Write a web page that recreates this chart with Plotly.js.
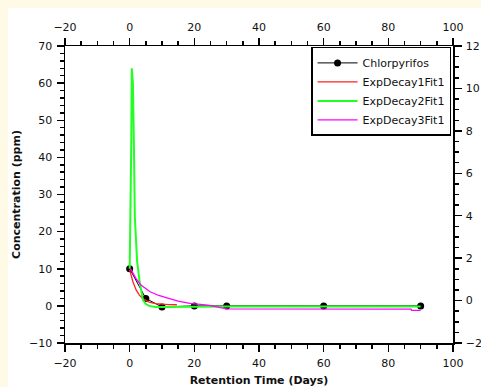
<!DOCTYPE html>
<html>
<head>
<meta charset="utf-8">
<script src="https://cdn.plot.ly/plotly-3.0.1.min.js"></script>
<style>html,body{margin:0;padding:0;background:#fefae6;}#chart{width:481px;height:387px;}</style>
</head>
<body>
<div id="chart"></div>
<script>
// Measured data (Retention Time in days, Concentration in ppm)
const measX = [0, 5, 10, 20, 30, 60, 90];
const measY = [10, 2, -0.3, 0, 0, 0, 0];

// ExpDecay1 fit
const fit1X = [0, 1, 2, 3, 4, 5, 6, 8, 10, 12, 14.6];
const fit1Y = [9.7, 6.5, 4.3, 2.9, 2.0, 1.4, 1.0, 0.6, 0.4, 0.35, 0.3];

// ExpDecay2 fit
const fit2X = [0, 0.3, 0.5, 0.65, 1.0, 1.3, 1.6, 2.3, 3.1, 4.1, 5, 6, 8, 10, 20, 30, 60, 90];
const fit2Y = [10, 25, 44, 64, 60, 44, 24, 12, 6.4, 1.6, 0.5, 0, -0.3, -0.3, -0.2, -0.2, -0.2, -0.2];

// ExpDecay3 fit
const fit3X = [0, 0.5, 2, 3.5, 6.3, 9, 11.8, 15, 18.6, 24.2, 30, 60, 87, 87.2, 90];
const fit3Y = [10, 9.7, 7.3, 5.6, 3.8, 2.8, 2.1, 1.3, 0.7, 0.2, -0.8, -0.85, -0.9, -1.2, -1.2];

const names = ['Chlorpyrifos', 'ExpDecay1Fit1', 'ExpDecay2Fit1', 'ExpDecay3Fit1'];
const xTicks = [-20, 0, 20, 40, 60, 80, 100];
const yTicks = [-10, 0, 10, 20, 30, 40, 50, 60, 70];
const y2Ticks = [-2, 0, 2, 4, 6, 8, 10, 12];

const font = {family: 'DejaVu Sans, Verdana, sans-serif', size: 11, color: '#111'};

const traces = [
  {x: measX, y: measY, name: names[0], mode: 'lines+markers',
   line: {color: '#000', width: 1}, marker: {color: '#000', size: 7, symbol: 'circle'}},
  {x: fit1X, y: fit1Y, name: names[1], mode: 'lines', line: {color: '#ff2020', width: 1.3}},
  {x: fit2X, y: fit2Y, name: names[2], mode: 'lines', line: {color: '#22ff22', width: 2}},
  {x: fit3X, y: fit3Y, name: names[3], mode: 'lines', line: {color: '#ff00ff', width: 1.3}},
  {x: [null], y: [null], xaxis: 'x2', yaxis: 'y2', showlegend: false, hoverinfo: 'skip', mode: 'lines'}
];

const axCommon = {
  showline: true, linecolor: '#000', linewidth: 1.5,
  ticks: 'outside', ticklen: 7, tickwidth: 1.5, tickcolor: '#000',
  showgrid: false, zeroline: false, tickfont: font,
  ticklabelstandoff: 2
};

const layout = {
  width: 481, height: 387,
  paper_bgcolor: '#fefae6', plot_bgcolor: '#fff',
  margin: {l: 65, r: 28, t: 46, b: 44},
  font: font,
  showlegend: true,
  legend: {x: 0.995, y: 0.997, xanchor: 'right', yanchor: 'top', bgcolor: '#fff',
           bordercolor: '#000', borderwidth: 1.5, font: font, tracegroupgap: 0, itemwidth: 40},
  xaxis: Object.assign({}, axCommon, {
    range: [-20, 100], tickvals: xTicks, side: 'bottom',
    minor: {dtick: 5, ticklen: 4, tickwidth: 1.5, tickcolor: '#000', ticks: 'outside'},
    title: {text: 'Retention Time (Days)', font: {family: font.family, size: 11, color: '#111', weight: 'bold'}, standoff: 7}
  }),
  xaxis2: Object.assign({}, axCommon, {
    range: [-20, 100], tickvals: xTicks, side: 'top', overlaying: 'x', anchor: 'y',
    minor: {dtick: 5, ticklen: 4, tickwidth: 1.5, tickcolor: '#000', ticks: 'outside'}
  }),
  yaxis: Object.assign({}, axCommon, {
    range: [-10, 70], tickvals: yTicks,
    minor: {dtick: 2, ticklen: 4, tickwidth: 1.5, tickcolor: '#000', ticks: 'outside'},
    title: {text: 'Concentration (ppm)', font: {family: font.family, size: 11, color: '#111', weight: 'bold'}, standoff: 6}
  }),
  yaxis2: Object.assign({}, axCommon, {
    range: [-2, 12], tickvals: y2Ticks, side: 'right', overlaying: 'y', anchor: 'x',
    ticklabelstandoff: 2,
    minor: {dtick: 0.5, ticklen: 4, tickwidth: 1.5, tickcolor: '#000', ticks: 'outside'}
  }),
  shapes: [{type: 'rect', xref: 'paper', yref: 'paper', layer: 'below',
            x0: -0.147, x1: 1.08, y0: -0.16, y1: 1.128,
            fillcolor: '#fff', line: {width: 0}}]
};

Plotly.newPlot('chart', traces, layout, {displayModeBar: false, staticPlot: true});
</script>
</body>
</html>
